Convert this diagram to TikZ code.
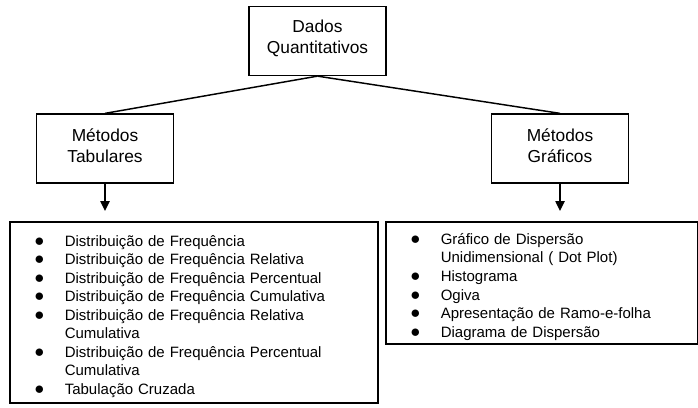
\documentclass[tikz,border=0pt]{standalone}
\usepackage{fontspec}
\setmainfont{Liberation Sans}
\usetikzlibrary{arrows.meta,positioning,calc}
\newcommand{\bulletlist}[1]{\noindent\raisebox{-3.2pt}[\height][\depth]{\begin{tabular}{@{\hspace{18.6pt}}p{22.65pt}@{}l@{}}#1\end{tabular}}}
\newcommand{\liftup}[1]{\raisebox{2.2pt}[\height][\depth]{#1}}
\newcommand{\bul}{{\fontsize{14}{13.9}\selectfont$\bullet$}}

\begin{document}
\begin{tikzpicture}[
    x=0.75pt, y=-0.75pt,
    font=\fontsize{11.25}{13.9}\selectfont,
    box/.style={rectangle, draw=black, line width=1.2pt, align=center, inner sep=2pt, minimum width=102.75pt, minimum height=51.5pt, font=\fontsize{13}{15.75}\selectfont},
    listbox/.style={rectangle, draw=black, line width=1.2pt, align=left, inner xsep=0pt, inner ysep=0pt, anchor=north west},
    link/.style={line width=1.1pt},
    arr/.style={-{Triangle[length=7.5pt, width=7pt]}, line width=1.1pt, shorten >=7.5pt}
  ]
    \useasboundingbox (0,0) rectangle (698,407);
    \node[box] (dados) at (317.5,41) {\liftup{Dados}\\\liftup{Quantitativos}};
    \node[box] (tab) at (105,148.5) {\liftup{Métodos}\\\liftup{Tabulares}};
    \node[box] (graf) at (560,148.5) {\liftup{Métodos}\\\liftup{Gráficos}};
    \node[listbox, text width=276pt, minimum height=135.75pt] (tablist) at (9,221) {\bulletlist{
        \bul & Distribuição de Frequência\\
        \bul & Distribuição de Frequência Relativa\\
        \bul & Distribuição de Frequência Percentual\\
        \bul & Distribuição de Frequência Cumulativa\\
        \bul & Distribuição de Frequência Relativa\\
             & Cumulativa\\
        \bul & Distribuição de Frequência Percentual\\
             & Cumulativa\\
        \bul & Tabulação Cruzada}};
    \node[listbox, text width=234pt, minimum height=91.5pt] (graflist) at (385,221) {\bulletlist{
        \bul & Gráfico de Dispersão\\
             & Unidimensional ( Dot Plot)\\
        \bul & Histograma\\
        \bul & Ogiva\\
        \bul & Apresentação de Ramo-e-folha\\
        \bul & Diagrama de Dispersão}};
    \draw[link] (dados.south) -- (tab.north);
    \draw[link] (dados.south) -- (graf.north);
    \draw[arr] (tab.south) -- (tab.south |- tablist.north);
    \draw[arr] (graf.south) -- (graf.south |- graflist.north);
  \end{tikzpicture}
\end{document}
